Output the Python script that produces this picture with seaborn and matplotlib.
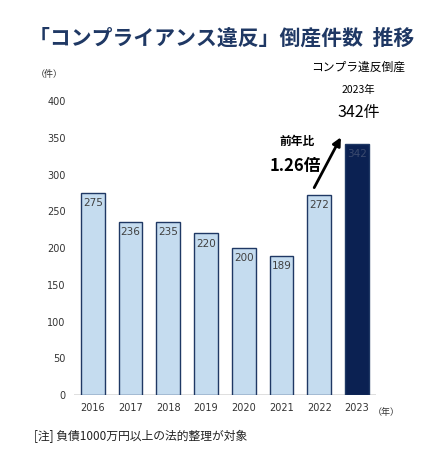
import matplotlib
matplotlib.use("Agg")
import matplotlib.pyplot as plt
import seaborn as sns
import pandas as pd

years = ["2016", "2017", "2018", "2019", "2020", "2021", "2022", "2023"]
counts = [275, 236, 235, 220, 200, 189, 272, 342]
yticks = [0, 50, 100, 150, 200, 250, 300, 350, 400]

sns.set_theme(style="white")
plt.rcParams["font.family"] = ["Noto Sans CJK JP", "DejaVu Sans"]

NAVY = "#1f3864"
LIGHT = "#c5dcef"
DARK = "#0b2152"

df = pd.DataFrame({"year": years, "count": counts})
fig = plt.figure(figsize=(4.37, 4.57), dpi=100)
ax = fig.add_axes([0.169, 0.1357, 0.691, 0.643])

colors = [LIGHT] * (len(years) - 1) + [DARK]
sns.barplot(data=df, x="year", y="count", hue="year", palette=colors, saturation=1,
            legend=False, width=0.63, edgecolor=NAVY, linewidth=1.0, ax=ax)

ax.set_xlim(-0.5, 7.5)
ax.set_ylim(0, 400)
ax.set_yticks(yticks)
ax.tick_params(axis="both", labelsize=7, colors="#333333", length=0, pad=6)
for lab in ax.get_xticklabels() + ax.get_yticklabels():
    lab.set_family(["DejaVu Sans"])
ax.set_xlabel(""); ax.set_ylabel("")
for s in ax.spines.values():
    s.set_visible(False)
ax.axhline(0, color="#d9d9d9", lw=1.2, zorder=0)

for i, v in enumerate(counts):
    c = "#404040" if i < len(counts) - 1 else "#3b4a6e"
    ax.text(i, v - 7, str(v), ha="center", va="top", fontsize=7.5, color=c,
            family=["DejaVu Sans"])

fig.text(0.508, 0.917, "「コンプライアンス違反」倒産件数  推移", ha="center", va="center",
         fontsize=15, fontweight="bold", color=NAVY)
fig.text(0.112, 0.836, "（件）", ha="center", va="center", fontsize=6.5, color="#333333")
fig.text(0.885, 0.098, "（年）", ha="center", va="center", fontsize=6.5, color="#333333")
fig.text(0.078, 0.044, "[注] 負債1000万円以上の法的整理が対象", ha="left", va="center",
         fontsize=8.5, color="#222222")

fig.text(0.82, 0.853, "コンプラ違反倒産", ha="center", va="center", fontsize=8.5, color="black")
fig.text(0.82, 0.803, "2023年", ha="center", va="center", fontsize=7.5, color="black")
fig.text(0.82, 0.754, "342件", ha="center", va="center", fontsize=11.5, color="black")
fig.text(0.68, 0.691, "前年比", ha="center", va="center", fontsize=8.5, fontweight="bold", color="black")
fig.text(0.675, 0.636, "1.26倍", ha="center", va="center", fontsize=12, fontweight="bold", color="black")

ax.annotate("", xy=(0.783, 0.705), xytext=(0.716, 0.584), xycoords="figure fraction",
            textcoords="figure fraction",
            arrowprops=dict(arrowstyle="-|>", color="black", lw=2, mutation_scale=12))

fig.savefig("out.png", dpi=100)
